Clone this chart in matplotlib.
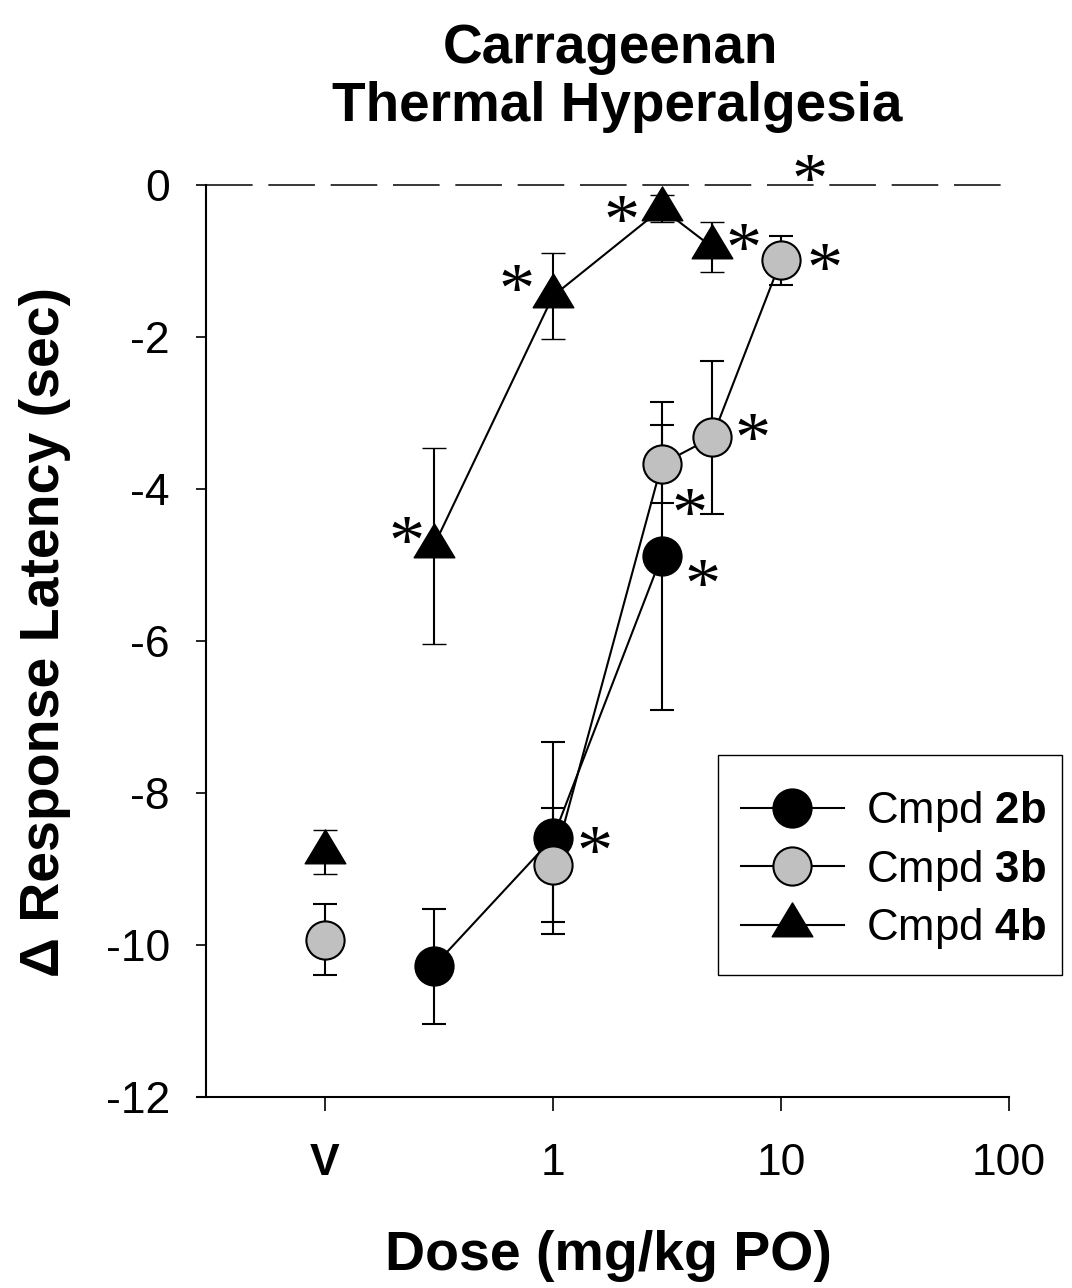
import numpy as np
import matplotlib
matplotlib.use('Agg')
import matplotlib.pyplot as plt
from matplotlib.path import Path
from matplotlib.lines import Line2D
from matplotlib.patches import Rectangle
from matplotlib.ticker import NullLocator
from matplotlib.textpath import TextPath
from matplotlib.font_manager import FontProperties

plt.rcParams['font.family'] = ['Liberation Sans', 'DejaVu Sans']
plt.rcParams['axes.unicode_minus'] = False
plt.rcParams['mathtext.fontset'] = 'custom'
plt.rcParams['mathtext.rm'] = 'Liberation Sans'
plt.rcParams['mathtext.bf'] = 'Liberation Sans:bold'

# ---------------- data ----------------
x_ticks = [0.1, 1, 10, 100]
x_tick_labels = ['V', '1', '10', '100']
vehicle_x = 0.1
y_ticks = [0, -2, -4, -6, -8, -10, -12]

dose_2b = [0.3, 1, 3]
mean_2b = [-10.28, -8.59, -4.88]
sem_2b = [0.76, 1.26, 2.03]
sig_2b = [1, 3]

veh_mean_3b = -9.93
veh_sem_3b = 0.47
dose_3b = [1, 3, 5, 10]
mean_3b = [-8.95, -3.67, -3.32, -0.99]
sem_3b = [0.75, 0.51, 1.01, 0.32]
sig_3b = [3, 5, 10]

veh_mean_4b = -8.78
veh_sem_4b = 0.29
dose_4b = [0.3, 1, 3, 5]
mean_4b = [-4.75, -1.46, -0.31, -0.82]
sem_4b = [1.29, 0.56, 0.18, 0.33]
sig_4b = [0.3, 1, 3, 5]

extra_sig_dose = 13.4   # asterisk on the zero line

labels = ['Cmpd $\\mathbf{2b}$', 'Cmpd $\\mathbf{3b}$', 'Cmpd $\\mathbf{4b}$']

# ---------------- layout ----------------
W, H = 1072, 1288
fig = plt.figure(figsize=(W / 100, H / 100), dpi=100)
ax_l, ax_r, ax_t, ax_b = 197, 1009, 185, 1097
ax = fig.add_axes([ax_l / W, 1 - ax_b / H, (ax_r - ax_l) / W, (ax_b - ax_t) / H])

ax.set_xscale('log')
decade = (ax_r - 553) / 2.0
xmin = 10 ** (-1 - (325 - ax_l) / decade)
ax.set_xlim(xmin, 100)
ax.set_ylim(-12, 0)
spine_x = 10 ** (-1 - (325 - 206) / decade)

tri_path = Path([(0, 2 / 3), (-0.6, -1 / 3), (0.6, -1 / 3), (0, 2 / 3)],
                [Path.MOVETO, Path.LINETO, Path.LINETO, Path.CLOSEPOLY])

lw = 1.5
circ_ms = 27.5
tri_ms = 32.5
styles = {
    '2b': dict(marker='o', ms=circ_ms, mfc='black', mec='black', mew=1.5),
    '3b': dict(marker='o', ms=circ_ms, mfc='#c0c0c0', mec='black', mew=1.5),
    '4b': dict(marker=tri_path, ms=tri_ms, mfc='black', mec='black', mew=1.0),
}
eb_kw = dict(color='black', lw=lw, elinewidth=lw, capsize=8.5, capthick=lw, clip_on=False)

# zero line
ax.plot([spine_x, 100], [0, 0], color='black', lw=1.1, linestyle=(0, (30.5, 10.3)),
        clip_on=False, zorder=1)

series = [
    ('2b', None, None, dose_2b, mean_2b, sem_2b),
    ('3b', veh_mean_3b, veh_sem_3b, dose_3b, mean_3b, sem_3b),
    ('4b', veh_mean_4b, veh_sem_4b, dose_4b, mean_4b, sem_4b),
]
z = 3
for key, vm, vs, d, m, s in series:
    ax.errorbar(d, m, yerr=s, linestyle='-', zorder=z, **styles[key], **eb_kw)
    if vm is not None:
        ax.errorbar([vehicle_x], [vm], yerr=[vs], linestyle='none', zorder=z,
                    **styles[key], **eb_kw)
    z += 1

# significance asterisks (offsets in pixels of glyph centre from the point)
ast_fp = FontProperties(family=['Liberation Serif', 'DejaVu Serif'])
ast_fs = 52
tp = TextPath((0, 0), '*', size=ast_fs * 100 / 72, prop=ast_fp)
ext = tp.get_extents()
gcx = (ext.x0 + ext.x1) / 2
gcy = (ext.y0 + ext.y1) / 2

ast_offsets = {
    ('2b', 1): (42, -2), ('2b', 3): (41, -17),
    ('3b', 3): (28, -38), ('3b', 5): (40, 10), ('3b', 10): (44, 3),
    ('4b', 0.3): (-27, 16), ('4b', 1): (-36, 18), ('4b', 3): (-40, 0), ('4b', 5): (31, 10),
}
lookup = {'2b': (dose_2b, mean_2b, sig_2b), '3b': (dose_3b, mean_3b, sig_3b),
          '4b': (dose_4b, mean_4b, sig_4b)}
for key, (d, m, sig) in lookup.items():
    for dd in sig:
        yv = m[d.index(dd)]
        ox, oy = ast_offsets[(key, dd)]
        ax.annotate('*', xy=(dd, yv), xytext=(ox - gcx, oy - gcy), textcoords='offset pixels',
                    fontproperties=ast_fp, fontsize=ast_fs, ha='left', va='baseline',
                    annotation_clip=False, zorder=10)
ax.annotate('*', xy=(extra_sig_dose, 0), xytext=(-gcx, 17 - gcy), textcoords='offset pixels',
            fontproperties=ast_fp, fontsize=ast_fs, ha='left', va='baseline',
            annotation_clip=False, zorder=10)

# axes styling
for sp in ['top', 'right']:
    ax.spines[sp].set_visible(False)
ax.spines['left'].set_position(('data', spine_x))
ax.spines['left'].set_linewidth(1.5)
ax.spines['bottom'].set_linewidth(1.5)
ax.set_xticks(x_ticks)
ax.set_xticklabels(x_tick_labels)
ax.xaxis.set_minor_locator(NullLocator())
ax.set_yticks(y_ticks)
ax.set_yticklabels([str(v) for v in y_ticks])
ax.tick_params(axis='y', direction='out', length=7, width=1.2, labelsize=32, pad=19)
ax.tick_params(axis='x', direction='out', length=10, width=1.2, labelsize=32, pad=23)
ax.get_xticklabels()[0].set_fontweight('bold')

fig.text(45 / W, 1 - 632 / H, '\u0394 Response Latency (sec)', rotation=90, ha='center',
         va='center', fontsize=40, fontweight='bold')
fig.text(608 / W, 1 - 1270 / H, 'Dose (mg/kg PO)', ha='center', va='baseline',
         fontsize=40, fontweight='bold')
fig.text(610 / W, 1 - 63 / H, 'Carrageenan', ha='center', va='baseline',
         fontsize=39.5, fontweight='bold')
fig.text(617 / W, 1 - 121 / H, 'Thermal Hyperalgesia', ha='center', va='baseline',
         fontsize=39.5, fontweight='bold')

# legend: frame drawn as a rectangle, entries as a frameless legend
ax.add_patch(Rectangle((718 / W, 1 - 975 / H), (1062 - 718) / W, (975 - 755) / H,
                       transform=fig.transFigure, fill=False,
                       edgecolor='black', lw=1.0, zorder=5, clip_on=False))
handles = [Line2D([], [], color='black', lw=lw, **styles[k]) for k in ['2b', '3b', '4b']]
leg = ax.legend(handles, labels, loc='upper left', bbox_to_anchor=(741 / W, 1 - 789 / H),
                bbox_transform=fig.transFigure, fontsize=31.5, frameon=False,
                borderaxespad=0, handlelength=2.35, handletextpad=0.5,
                labelspacing=0.31, borderpad=0, numpoints=1)
leg.set_zorder(6)

fig.savefig('out.png', dpi=100)
